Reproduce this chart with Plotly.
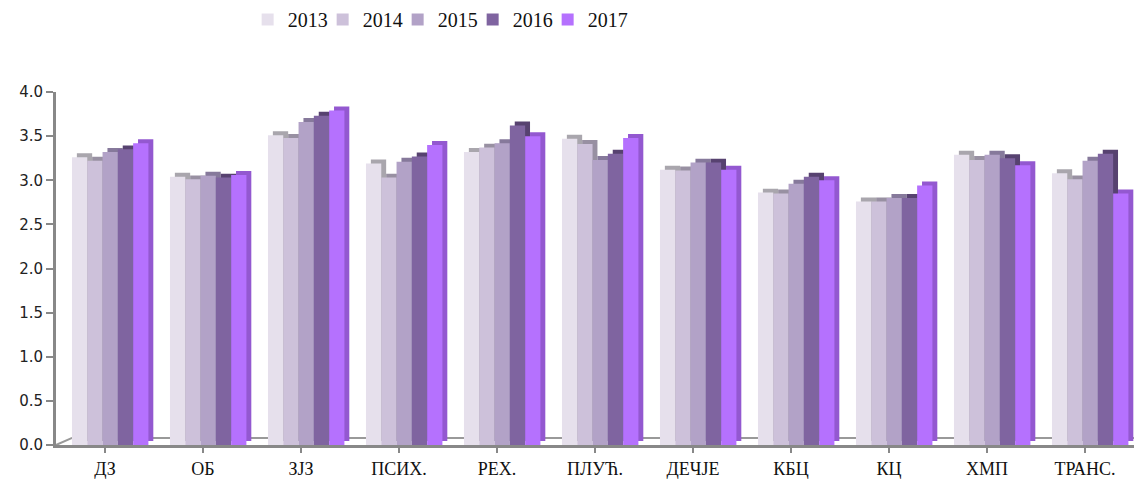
import plotly.graph_objects as go

categories = ["ДЗ", "ОБ", "ЗЈЗ", "ПСИХ.", "РЕХ.", "ПЛУЋ.", "ДЕЧЈЕ", "КБЦ", "КЦ", "ХМП", "ТРАНС."]
years = ["2013", "2014", "2015", "2016", "2017"]
v2013 = [3.26, 3.04, 3.51, 3.19, 3.32, 3.47, 3.12, 2.86, 2.76, 3.29, 3.08]
v2014 = [3.22, 3.01, 3.48, 3.03, 3.37, 3.41, 3.11, 2.85, 2.76, 3.23, 3.01]
v2015 = [3.32, 3.05, 3.66, 3.21, 3.42, 3.23, 3.20, 2.96, 2.80, 3.29, 3.22]
v2016 = [3.35, 3.03, 3.73, 3.27, 3.62, 3.30, 3.20, 3.04, 2.80, 3.25, 3.30]
v2017 = [3.42, 3.06, 3.79, 3.40, 3.50, 3.48, 3.12, 3.00, 2.94, 3.17, 2.85]
series = [v2013, v2014, v2015, v2016, v2017]

front_colors = ["#E6E0EC", "#CDC1DA", "#B2A2C7", "#7F64A0", "#B571FE"]
side_colors = ["#A9A6AD", "#9890A2", "#86799B", "#574270", "#9358D0"]

W = 0.156          # bar width in category units
START = -0.337     # first bar offset
DX = 0.05          # 3D depth shift (x, category units)
DY = 0.045         # 3D depth shift (y, value units)

x_idx = list(range(len(categories)))
fig = go.Figure()

# depth (side/top) faces drawn first
for i, (yr, vals) in enumerate(zip(years, series)):
    fig.add_trace(go.Bar(
        x=x_idx, y=vals, base=DY, width=W, offset=START + i * W + DX,
        marker=dict(color=side_colors[i], line=dict(width=0)),
        showlegend=False, hoverinfo="skip",
    ))
# front faces
for i, (yr, vals) in enumerate(zip(years, series)):
    fig.add_trace(go.Bar(
        x=x_idx, y=vals, width=W, offset=START + i * W, name=yr,
        marker=dict(color=front_colors[i], line=dict(width=0)),
    ))
# invisible spacer entry so the last legend label is not clipped
fig.add_trace(go.Bar(x=[None], y=[None], name=" ",
                     marker=dict(color="rgba(0,0,0,0)", line=dict(width=0, color="rgba(0,0,0,0)")),
                     hoverinfo="skip"))

fig.update_layout(
    width=1136, height=482,
    barmode="overlay",
    paper_bgcolor="white", plot_bgcolor="white",
    margin=dict(l=56, r=2, t=92, b=37, autoexpand=False),
    legend=dict(
        orientation="h", xref="container", yref="container",
        x=0.218, y=1.0, xanchor="left", yanchor="top",
        font=dict(family="Liberation Serif", size=20, color="#111"),
        entrywidth=30, entrywidthmode="pixels", itemwidth=30,
        traceorder="normal", tracegroupgap=0,
    ),
    xaxis=dict(
        range=[-0.5, len(categories) - 0.5], automargin=False,
        tickmode="array", tickvals=x_idx, ticktext=categories,
        tickson="boundaries", ticks="outside", ticklen=5, tickwidth=2, tickcolor="#888",
        showline=True, linecolor="#888", linewidth=3,
        showgrid=False, zeroline=False,
        tickfont=dict(family="Liberation Serif", size=18, color="#111"),
    ),
    yaxis=dict(
        range=[0, 4], tickmode="linear", tick0=0, dtick=0.5, tickformat=".1f",
        automargin=False,
        ticks="outside", ticklen=7, tickwidth=2, tickcolor="#888",
        showline=True, linecolor="#888", linewidth=3,
        showgrid=False, zeroline=False,
        tickfont=dict(family="DejaVu Sans", size=15, color="#222"),
    ),
    shapes=[
        dict(type="line", xref="paper", yref="y", x0=0.015, x1=1.0, y0=0.08, y1=0.08,
             line=dict(color="#999", width=2), layer="below"),
        dict(type="line", xref="paper", yref="y", x0=0.0, x1=0.015, y0=0.0, y1=0.08,
             line=dict(color="#999", width=2), layer="below"),
    ],
)

fig.write_html("out.html", config={"displayModeBar": False},
               post_script="document.body.style.margin='0';")
